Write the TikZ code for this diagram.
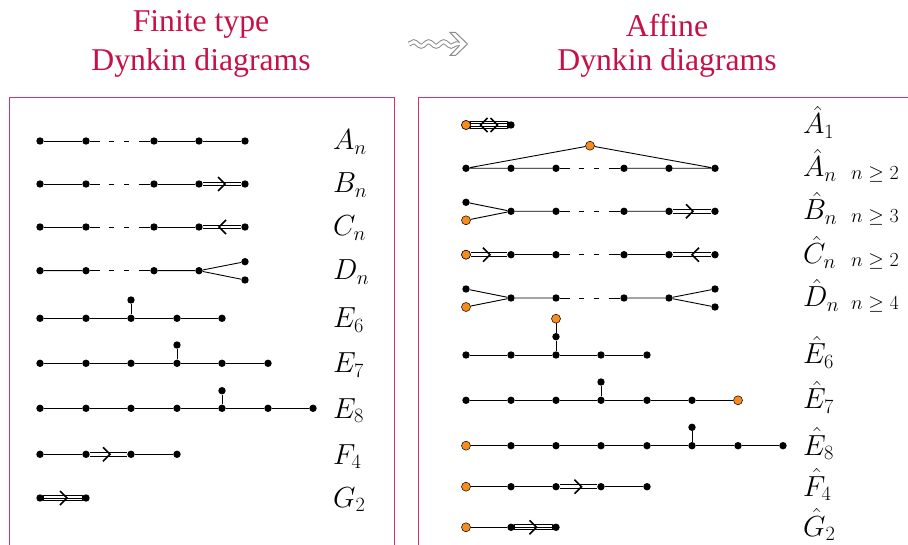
\documentclass[tikz,border=0pt]{standalone}
\usepackage{fix-cm}
\usepackage[no-math]{fontspec}
\newfontfamily\titlefont{Liberation Serif}
\usetikzlibrary{calc,decorations.pathmorphing}
\definecolor{crim}{RGB}{198,16,72}
\definecolor{orng}{RGB}{247,140,30}
\begin{document}
\begin{tikzpicture}[x=1pt,y=-1pt,
 dot/.style={circle,fill=black,inner sep=0pt,minimum size=7.4pt},
 odot/.style={circle,fill=orng,draw=black,line width=0.5pt,inner sep=0pt,minimum size=9pt},
 edge/.style={line width=0.9pt},
 dashedge/.style={line width=0.9pt,dash pattern=on 10pt off 9pt on 5pt off 10pt on 5pt off 10pt on 30pt},
 dedge/.style={double,double distance=2.8pt,line width=0.9pt},
 chev/.style={line width=1.5pt},
 lab/.style={anchor=base west,inner sep=0pt,font=\fontsize{29}{33}\selectfont},
 cond/.style={anchor=base west,inner sep=0pt,font=\fontsize{20}{24}\selectfont},
 title/.style={text=crim,anchor=base,inner sep=0pt,font=\titlefont\fontsize{31.7}{38}\selectfont},
 frame/.style={draw=crim!85,line width=0.9pt}]

\useasboundingbox (0,0) rectangle (908,545);

% titles
\node[title] (t1a) at (201,32) {Finite type};
\node[title] (t1b) at (201,71) {Dynkin diagrams};
\node[title] (t2a) at (667,36.5) {Affine};
\node[title] (t2b) at (667,71) {Dynkin diagrams};

% wavy arrow
\coordinate (wa) at (409,44);
\coordinate (wb) at (459.5,44);
\draw[black!45,double,double distance=3pt,line width=1pt,
  decorate,decoration={snake,amplitude=2.2pt,segment length=15pt,post length=3pt}] (wa) -- (wb);
\fill[white] (459.5,42) -- (450,32.5) -- (455.5,32.5) -- (467.5,44) -- (455.5,55.5) -- (450,55.5) -- (459.5,46) -- cycle;
\draw[black!45,line width=1pt,line join=miter] (459.5,42.5) -- (450,32.5) -- (455.5,32.5) -- (467.5,44) -- (455.5,55.5) -- (450,55.5) -- (459.5,45.5);

% frames
\draw[frame] (9,548) -- (9,97) -- (394,97) -- (394,548);
\draw[frame] (418,548) -- (418,97) -- (910,97);

% ---------- finite type ----------
% A_n
\foreach \i/\x in {1/40,2/86,3/154,4/199,5/245} \node[dot] (a\i) at (\x,141) {};
\draw[edge] (a1)--(a2) (a3)--(a4)--(a5);
\draw[dashedge] (a2)--(a3);
\node[lab] (la) at (333,150) {$A_n$};

% B_n
\foreach \i/\x in {1/40,2/86,3/154,4/199,5/245} \node[dot] (b\i) at (\x,184) {};
\draw[edge] (b1)--(b2) (b3)--(b4);
\draw[dashedge] (b2)--(b3);
\draw[dedge] (b4)--(b5);
\draw[chev] ($(b4)!0.5!(b5)+(-4,-7)$) -- ++(7,7) -- ++(-7,7);
\node[lab] (lb) at (333,193) {$B_n$};

% C_n
\foreach \i/\x in {1/40,2/86,3/154,4/199,5/245} \node[dot] (c\i) at (\x,227) {};
\draw[edge] (c1)--(c2) (c3)--(c4);
\draw[dashedge] (c2)--(c3);
\draw[dedge] (c4)--(c5);
\draw[chev] ($(c4)!0.5!(c5)+(4,-7)$) -- ++(-7,7) -- ++(7,7);
\node[lab] (lc) at (333,236) {$C_n$};

% D_n
\foreach \i/\x in {1/40,2/86,3/154,4/199} \node[dot] (d\i) at (\x,270.7) {};
\node[dot] (d5) at (245,261.7) {};
\node[dot] (d6) at (245,280) {};
\draw[edge] (d1)--(d2) (d3)--(d4) (d4)--(d5) (d4)--(d6);
\draw[dashedge] (d2)--(d3);
\node[lab] (ld) at (333,280) {$D_n$};

% E_6
\foreach \i/\x in {1/40,2/86,3/131,4/177,5/222} \node[dot] (e\i) at (\x,318.3) {};
\node[dot] (e6) at (131,300) {};
\draw[edge] (e1)--(e2)--(e3)--(e4)--(e5) (e3)--(e6);
\node[lab] (le6) at (333,328) {$E_6$};

% E_7
\foreach \i/\x in {1/40,2/86,3/131,4/177,5/222,6/268} \node[dot] (f\i) at (\x,363.3) {};
\node[dot] (f7) at (177,345) {};
\draw[edge] (f1)--(f2)--(f3)--(f4)--(f5)--(f6) (f4)--(f7);
\node[lab] (le7) at (333,373) {$E_7$};

% E_8
\foreach \i/\x in {1/40,2/86,3/131,4/177,5/222,6/268,7/313} \node[dot] (g\i) at (\x,408.3) {};
\node[dot] (g8) at (222,390.7) {};
\draw[edge] (g1)--(g2)--(g3)--(g4)--(g5)--(g6)--(g7) (g5)--(g8);
\node[lab] (le8) at (333,418) {$E_8$};

% F_4
\foreach \i/\x in {1/40,2/86,3/131,4/177} \node[dot] (h\i) at (\x,454.3) {};
\draw[edge] (h1)--(h2) (h3)--(h4);
\draw[dedge] (h2)--(h3);
\draw[chev] ($(h2)!0.5!(h3)+(-5.5,-7)$) -- ++(7,7) -- ++(-7,7);
\node[lab] (lf4) at (333,464) {$F_4$};

% G_2
\node[dot] (k1) at (40,498) {};
\node[dot] (k2) at (86,498) {};
\draw[line width=6pt,line cap=round] (k1)--(k2);
\draw[white,line width=4pt] (k1)--(k2);
\draw[line width=0.9pt] (k1)--(k2);
\draw[chev] ($(k1)!0.5!(k2)+(-3,-7)$) -- ++(7,7) -- ++(-7,7);
\node[lab] (lg2) at (333,507) {$G_2$};

% ---------- affine ----------
% A1 hat
\node[odot] (p1) at (466,125) {};
\node[dot] (p2) at (511,125) {};
\draw[line width=7.5pt,line cap=round] (p1)--(p2);
\draw[white,line width=5.7pt] (p1)--(p2);
\draw[line width=3.7pt] (p1)--(p2);
\draw[white,line width=1.8pt] (p1)--(p2);
\node[odot] at (p1) {};
\draw[chev] ($(p1)!0.5!(p2)+(-1,-7)$) -- ++(-7,7) -- ++(7,7);
\draw[chev] ($(p1)!0.5!(p2)+(2,-7)$) -- ++(7,7) -- ++(-7,7);
\node[lab] (lp) at (803,134) {$\hat{A}_1$};

% A_n hat
\foreach \i/\x in {1/466,2/511,3/556,4/624,5/669,6/715} \node[dot] (q\i) at (\x,168.3) {};
\node[odot] (q0) at (590,145.7) {};
\draw[edge] (q1)--(q2)--(q3) (q4)--(q5)--(q6) (q1)--(q0)--(q6);
\draw[dashedge] (q3)--(q4);
\node[lab] (lq) at (803,177) {$\hat{A}_n$};
\node[cond] (cq) at (851,180) {$n\geq2$};

% B_n hat
\node[dot] (r0) at (466,202.3) {};
\node[odot] (r9) at (466,220.3) {};
\foreach \i/\x in {1/511,2/556,3/624,4/669,5/715} \node[dot] (r\i) at (\x,211.3) {};
\draw[edge] (r0)--(r1) (r9)--(r1) (r1)--(r2) (r3)--(r4);
\draw[dashedge] (r2)--(r3);
\draw[dedge] (r4)--(r5);
\draw[chev] ($(r4)!0.5!(r5)+(-6,-7)$) -- ++(7,7) -- ++(-7,7);
\node[lab] (lr) at (803,220) {$\hat{B}_n$};
\node[cond] (cr) at (851,223) {$n\geq3$};

% C_n hat
\node[odot] (s0) at (466,254.7) {};
\foreach \i/\x in {1/511,2/556,3/624,4/669,5/715} \node[dot] (s\i) at (\x,254.7) {};
\draw[dedge] (s0)--(s1);
\draw[edge] (s1)--(s2) (s3)--(s4);
\draw[dashedge] (s2)--(s3);
\draw[dedge] (s4)--(s5);
\node[odot] at (s0) {};
\draw[chev] ($(s0)!0.5!(s1)+(-5.5,-7)$) -- ++(7,7) -- ++(-7,7);
\draw[chev] ($(s4)!0.5!(s5)+(7,-7)$) -- ++(-7,7) -- ++(7,7);
\node[lab] (ls) at (803,264) {$\hat{C}_n$};
\node[cond] (cs) at (851,267) {$n\geq2$};

% D_n hat
\node[dot] (t0) at (466,289) {};
\node[odot] (t9) at (466,307) {};
\foreach \i/\x in {1/511,2/556,3/624,4/669} \node[dot] (t\i) at (\x,298) {};
\node[dot] (t5) at (715,289) {};
\node[dot] (t6) at (715,307) {};
\draw[edge] (t0)--(t1) (t9)--(t1) (t1)--(t2) (t3)--(t4) (t4)--(t5) (t4)--(t6);
\draw[dashedge] (t2)--(t3);
\node[lab] (lt) at (803,307) {$\hat{D}_n$};
\node[cond] (ct) at (851,310) {$n\geq4$};

% E_6 hat
\foreach \i/\x in {1/466,2/511,3/556,4/601,5/647} \node[dot] (u\i) at (\x,355) {};
\node[dot] (u6) at (556,336.7) {};
\node[odot] (u7) at (556,318.7) {};
\draw[edge] (u1)--(u2)--(u3)--(u4)--(u5) (u3)--(u6)--(u7);
\node[lab] (lu) at (803,364) {$\hat{E}_6$};

% E_7 hat
\foreach \i/\x in {1/466,2/511,3/556,4/601,5/647,6/692} \node[dot] (v\i) at (\x,400.3) {};
\node[odot] (v7) at (738,400.3) {};
\node[dot] (v8) at (601,382) {};
\draw[edge] (v1)--(v2)--(v3)--(v4)--(v5)--(v6)--(v7) (v4)--(v8);
\node[lab] (lv) at (803,409) {$\hat{E}_7$};

% E_8 hat
\node[odot] (w0) at (466,445.7) {};
\foreach \i/\x in {1/511,2/556,3/601,4/647,5/692,6/738,7/783} \node[dot] (w\i) at (\x,445.7) {};
\node[dot] (w8) at (692,427.3) {};
\draw[edge] (w0)--(w1)--(w2)--(w3)--(w4)--(w5)--(w6)--(w7) (w5)--(w8);
\node[lab] (lw) at (803,455) {$\hat{E}_8$};

% F_4 hat
\node[odot] (x0) at (466,486.7) {};
\foreach \i/\x in {1/511,2/556,3/601,4/647} \node[dot] (x\i) at (\x,486.7) {};
\draw[edge] (x0)--(x1)--(x2) (x3)--(x4);
\draw[dedge] (x2)--(x3);
\draw[chev] ($(x2)!0.5!(x3)+(-4,-7)$) -- ++(7,7) -- ++(-7,7);
\node[lab] (lx) at (803,496) {$\hat{F}_4$};

% G_2 hat
\node[odot] (y0) at (466,527.3) {};
\node[dot] (y1) at (511,527.3) {};
\node[dot] (y2) at (556,527.3) {};
\draw[edge] (y0)--(y1);
\draw[line width=6pt,line cap=round] (y1)--(y2);
\draw[white,line width=4pt] (y1)--(y2);
\draw[line width=0.9pt] (y1)--(y2);
\draw[chev] ($(y1)!0.5!(y2)+(-4,-7)$) -- ++(7,7) -- ++(-7,7);
\node[lab] (ly) at (803,536) {$\hat{G}_2$};

\end{tikzpicture}
\end{document}
